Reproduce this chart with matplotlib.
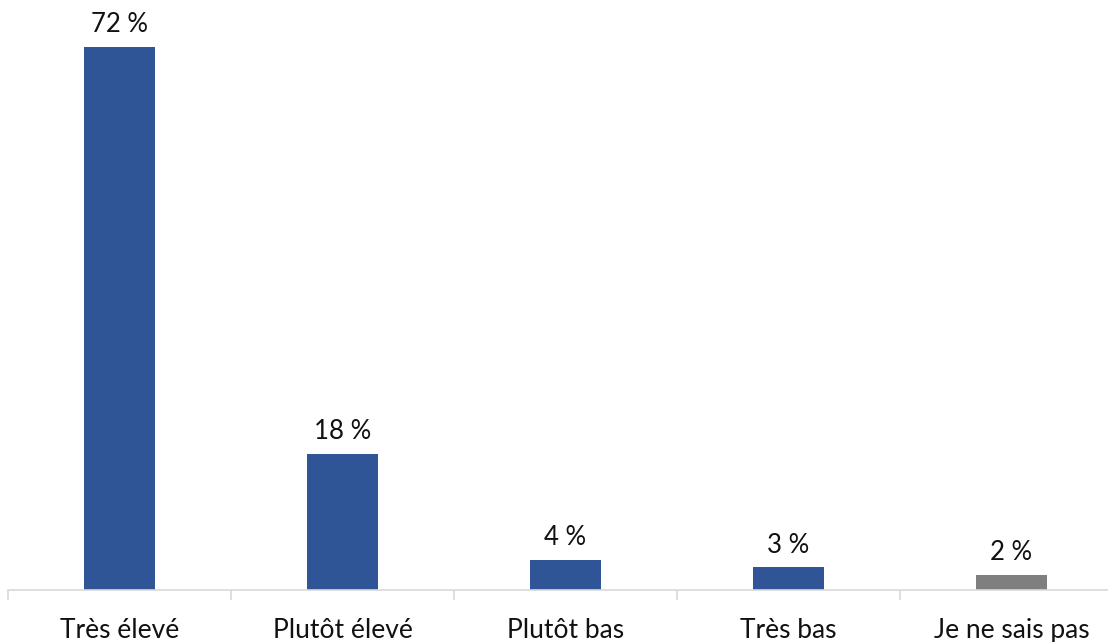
import matplotlib.pyplot as plt
import numpy as np

categories = ["Très élevé", "Plutôt élevé", "Plutôt bas", "Très bas", "Je ne sais pas"]
values = [72, 18, 4, 3, 2]
bar_colors = ["#2F5597", "#2F5597", "#2F5597", "#2F5597", "#7F7F7F"]

plt.rcParams["font.family"] = ["Lato", "DejaVu Sans"]

fig = plt.figure(figsize=(11.08, 6.42), dpi=100)
ax = fig.add_axes([8 / 1108, 52 / 642, 1115 / 1108, 590 / 642])

x = np.arange(len(categories))
bars = ax.bar(x, values, width=0.315, color=bar_colors)

for xi, v in zip(x, values):
    ax.annotate(f"{v} %", (xi, v), xytext=(0, 7), textcoords="offset points",
                ha="center", va="bottom", fontsize=18.5, color="#111111")

ax.set_xlim(-0.5, len(categories) - 0.5)
ax.set_ylim(0, 78.2)

for side in ["top", "right", "left"]:
    ax.spines[side].set_visible(False)
ax.spines["bottom"].set_color("#d9d9d9")
ax.spines["bottom"].set_linewidth(1.2)

ax.set_yticks([])
ax.set_xticks(x)
ax.set_xticklabels(categories, fontsize=19, color="#111111")
ax.tick_params(axis="x", which="major", length=0, pad=20)
ax.set_xticks(np.arange(-0.5, len(categories) + 0.5, 1), minor=True)
ax.tick_params(axis="x", which="minor", length=7, color="#d9d9d9", width=1.2)

fig.savefig("out.png", dpi=100)
